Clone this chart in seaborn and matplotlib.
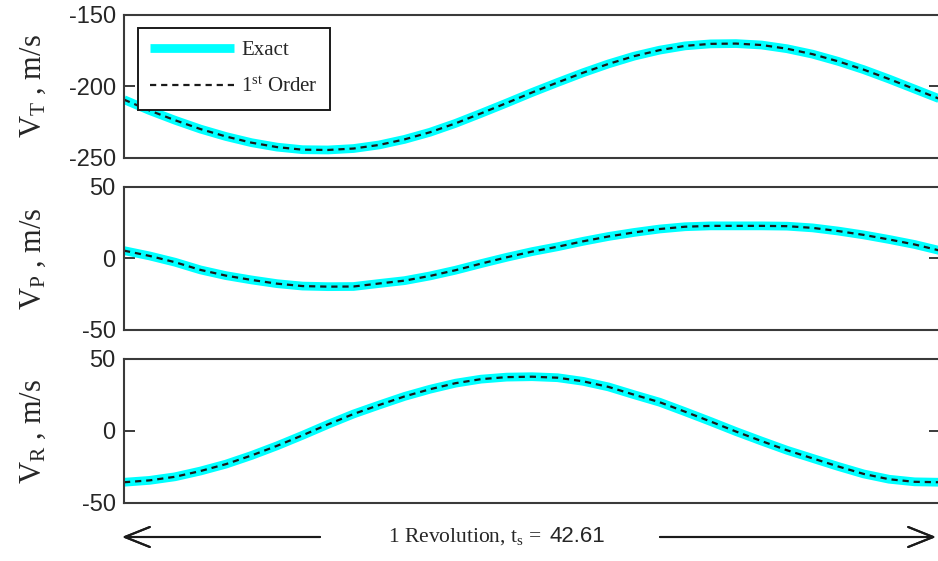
import numpy as np
import pandas as pd
import matplotlib
matplotlib.use("Agg")
import matplotlib.pyplot as plt
import seaborn as sns

# one revolution, sampled at 33 equally spaced times
T_REV = 42.61
t = np.linspace(0, T_REV, 33)

# values (exact and 1st order coincide)
v_t = [-209.2, -216.8, -223.6, -229.8, -235.0, -239.3, -242.4, -244.2, -244.4,
       -243.4, -240.9, -237.0, -232.0, -225.8, -218.8, -211.6, -204.2, -197.2,
       -190.4, -184.2, -178.8, -174.6, -171.6, -170.2, -170.0, -171.0, -173.6,
       -177.4, -182.4, -188.2, -194.8, -201.8, -208.8]
v_p = [5.5, 1.8, -2.6, -8.0, -12.0, -15.0, -17.6, -19.3, -19.7, -19.6, -17.5,
       -15.5, -12.2, -8.2, -3.6, 0.8, 4.8, 8.2, 12.0, 15.4, 18.2, 20.6, 22.2,
       22.8, 22.8, 22.8, 22.6, 21.4, 19.2, 16.5, 13.3, 9.8, 5.5]
v_r = [-35.6, -34.3, -31.8, -27.8, -23.0, -17.0, -10.3, -3.0, 4.6, 11.8, 18.0,
       24.0, 29.0, 33.2, 36.0, 37.4, 37.7, 37.0, 34.5, 30.6, 25.2, 20.0, 13.4,
       6.6, -0.4, -7.0, -13.4, -19.0, -24.6, -29.8, -33.5, -35.3, -35.6]

ylabels = [r"V$_\mathrm{T}$ , m/s", r"V$_\mathrm{P}$ , m/s", r"V$_\mathrm{R}$ , m/s"]
yticks = [[-250, -200, -150], [-50, 0, 50], [-50, 0, 50]]
tick_labels = [["-250", "-200", "-150"], ["-50", "0", "50"], ["-50", "0", "50"]]

sns.set_style("white")
plt.rcParams["font.family"] = ["Liberation Sans", "DejaVu Sans"]
plt.rcParams["mathtext.fontset"] = "custom"
plt.rcParams["mathtext.rm"] = "Liberation Serif"
plt.rcParams["mathtext.it"] = "Liberation Serif:italic"

SERIF = ["Liberation Serif", "DejaVu Serif"]
SPINE = "#3a3a3a"

fig = plt.figure(figsize=(9.38, 5.61), dpi=100)

# axes boxes in figure fraction (left, bottom, width, height)
boxes = [
    (0.1322, 0.7184, 0.870, 0.2549),
    (0.1322, 0.4118, 0.870, 0.2549),
    (0.1322, 0.1034, 0.870, 0.2567),
]

for i, (vals, box) in enumerate(zip([v_t, v_p, v_r], boxes)):
    ax = fig.add_axes(box)
    df = pd.DataFrame({"t": t, "v": vals})
    sns.lineplot(data=df, x="t", y="v", ax=ax, color="#00FFFF",
                 linewidth=6.3, label="Exact", solid_capstyle="butt")
    sns.lineplot(data=df, x="t", y="v", ax=ax, color="#1a1a1a",
                 linewidth=1.6, linestyle=(0, (2.8, 2.2)),
                 label=r"1$^{\mathrm{st}}$ Order")

    ax.set_xlim(0, T_REV)
    ax.set_ylim(yticks[i][0], yticks[i][-1])
    ax.set_xticks([])
    ax.set_yticks(yticks[i])
    ax.set_yticklabels(tick_labels[i])
    ax.set_xlabel("")
    ax.set_ylabel(ylabels[i], fontsize=22, family=SERIF)
    ax.yaxis.set_label_coords(-0.093, 0.5)
    ax.tick_params(axis="y", direction="in", left=True, right=True,
                   length=8, width=1.4, color=SPINE, labelsize=17, pad=6)
    for s in ax.spines.values():
        s.set_color(SPINE)
        s.set_linewidth(1.5)

    if i == 0:
        ax.legend(loc="upper left", bbox_to_anchor=(0.017, 0.909),
                  borderaxespad=0, fancybox=False, framealpha=1,
                  edgecolor="#1a1a1a", prop={"family": SERIF, "size": 15},
                  handlelength=4.0, handletextpad=0.35, labelspacing=0.85,
                  borderpad=0.6)
        ax.get_legend().get_frame().set_linewidth(1.4)
    else:
        ax.get_legend().remove()

# bottom caption with arrows spanning one revolution
y_cap = 1 - 537 / 561
fig.text(388 / 938, y_cap, r"1 Revolution, t$_\mathrm{s}$ =",
         family=SERIF, fontsize=15.5, ha="left", va="center")
fig.text(549 / 938, y_cap, "42.61", fontsize=16, ha="left", va="center")
arrow = dict(arrowstyle="->,head_length=1.8,head_width=0.72",
             lw=1.5, color="#1a1a1a", mutation_scale=10, shrinkA=0, shrinkB=0)
fig.add_artist(plt.annotate("", xy=(122 / 938, y_cap), xytext=(320 / 938, y_cap),
                            xycoords="figure fraction",
                            textcoords="figure fraction", arrowprops=arrow))
fig.add_artist(plt.annotate("", xy=(936 / 938, y_cap), xytext=(660 / 938, y_cap),
                            xycoords="figure fraction",
                            textcoords="figure fraction", arrowprops=arrow))

fig.savefig("out.png", dpi=100)
